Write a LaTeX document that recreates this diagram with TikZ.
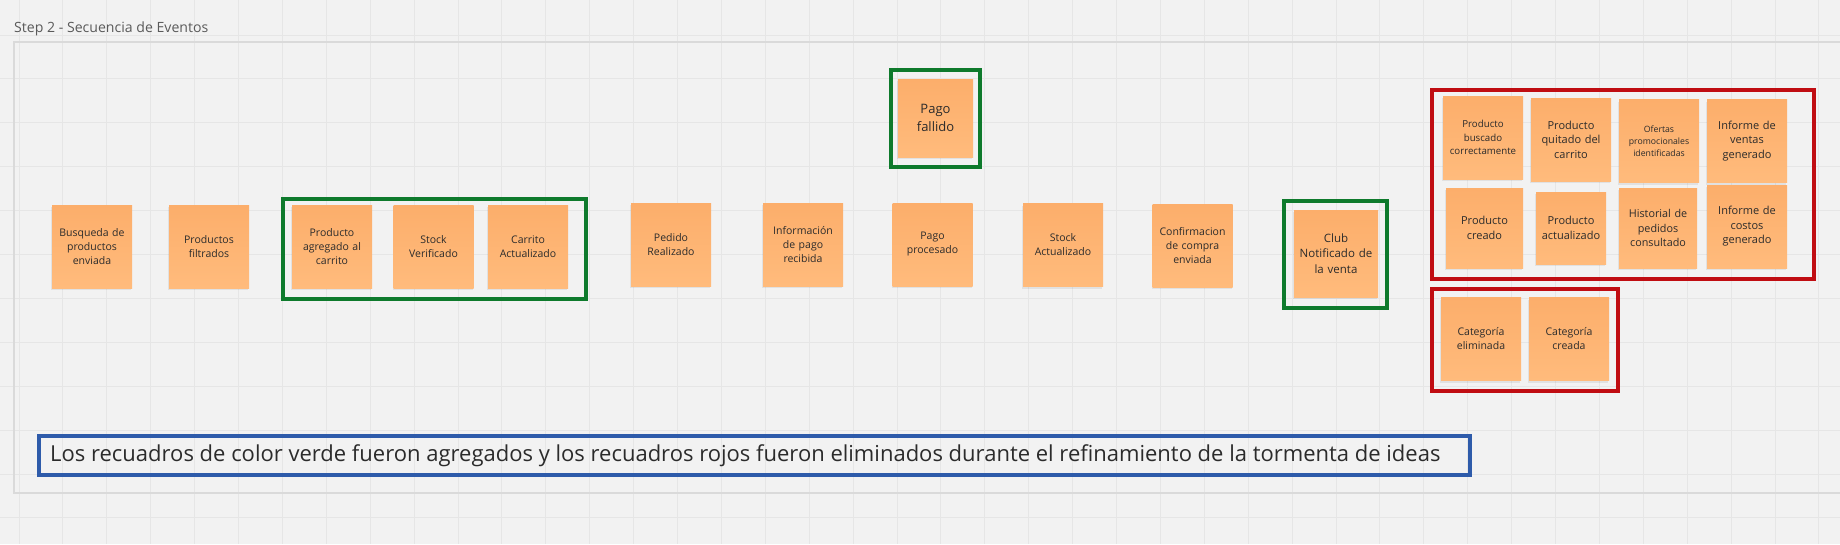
\documentclass[tikz,border=0pt]{standalone}
\usepackage{fontspec}
\setmainfont{Open Sans}
\usetikzlibrary{shadows}
\definecolor{colbg}{HTML}{F2F2F2}
\definecolor{colgrid}{HTML}{E6E6E6}
\definecolor{colframe}{HTML}{DADADA}
\definecolor{coltop}{HTML}{FCAE6B}
\definecolor{colbot}{HTML}{FFBB7C}
\definecolor{coltxt}{HTML}{2B2B2B}
\definecolor{colgreen}{HTML}{0E7A2C}
\definecolor{colred}{HTML}{C00D12}
\definecolor{colblue}{HTML}{2E5BAA}
\definecolor{coltitle}{HTML}{5A5A5A}
\begin{document}
\begin{tikzpicture}[x=1pt,y=-1pt,
  sticky/.style={rectangle, inner sep=0pt, top color=coltop, bottom color=colbot,
    draw=none, text=coltxt, align=center, minimum width=80pt, minimum height=83pt,
    text width=74pt, font=\fontsize{10.5}{14}\selectfont,
    drop shadow={shadow xshift=-1pt, shadow yshift=-2pt, opacity=0.15}},
  greenframe/.style={draw=colgreen, line width=4pt},
  redframe/.style={draw=colred, line width=4pt},
  blueframe/.style={draw=colblue, line width=4pt}]
\useasboundingbox (0,0) rectangle (1840,544);
\fill[colbg] (0,0) rectangle (1840,544);
% grid
\foreach \k in {0,...,41} {\draw[colgrid, line width=1pt] ({19+43.9*\k},0) -- ({19+43.9*\k},544);}
\foreach \k in {0,...,11} {\draw[colgrid, line width=1pt] (0,{35+43.9*\k}) -- (1840,{35+43.9*\k});}
% frame
\draw[colframe, line width=1.2pt] (1840,42) -- (14,42) -- (14,493) -- (1840,493);
\node[anchor=base west, inner sep=0pt, text=coltitle, font=\fontsize{14.1}{16}\selectfont] (title) at (14,32.5) {Step 2 - Secuencia de Eventos};

% main row
\node[sticky] (n1) at (92,246.5) {Busqueda de\\productos\\enviada};
\node[sticky] (n2) at (209,246.5) {Productos\\filtrados};
\node[sticky] (n3) at (332,246.5) {Producto\\agregado al\\carrito};
\node[sticky] (n4) at (433.5,246.5) {Stock\\Verificado};
\node[sticky] (n5) at (528,246.5) {Carrito\\Actualizado};
\node[sticky] (n6) at (671,244.5) {Pedido\\Realizado};
\node[sticky] (n7) at (803,244.5) {Información\\de pago\\recibida};
\node[sticky] (n8) at (932.5,244.5) {Pago\\procesado};
\node[sticky] (n9) at (1063,245) {Stock\\Actualizado};
\node[sticky] (n10) at (1192.5,245.5) {Confirmacion\\de compra\\enviada};
\node[sticky, minimum width=84pt, minimum height=87pt, font=\fontsize{11.5}{15.5}\selectfont] (n11) at (1336,253.5) {Club\\Notificado de\\la venta};
\node[sticky, minimum width=75pt, minimum height=78pt, font=\fontsize{13}{17.5}\selectfont] (pf) at (935.5,118) {Pago\\fallido};

% green frames
\draw[greenframe] (283,199) rectangle (586,299);
\draw[greenframe] (890.5,70) rectangle (980,167);
\draw[greenframe] (1284,201) rectangle (1387,308);

% removed notes
\node[sticky, font=\fontsize{9.7}{13.3}\selectfont] (r1) at (1483,137.5) {Producto\\buscado\\correctamente};
\node[sticky, font=\fontsize{11}{14.5}\selectfont] (r2) at (1571,139.5) {Producto\\quitado del\\carrito};
\node[sticky, font=\fontsize{8.7}{12}\selectfont] (r3) at (1659,141) {Ofertas\\promocionales\\identificadas};
\node[sticky, font=\fontsize{11}{14.5}\selectfont] (r4) at (1747,141) {Informe de\\ventas\\generado};
\node[sticky, minimum width=77pt, minimum height=80pt, font=\fontsize{11}{14.5}\selectfont] (r5) at (1484.5,228) {Producto\\creado};
\node[sticky, minimum width=70pt, minimum height=72pt, text width=70pt, font=\fontsize{11}{14.5}\selectfont] (r6) at (1571,228) {Producto\\actualizado};
\node[sticky, minimum width=78pt, minimum height=80pt, font=\fontsize{10.8}{14.5}\selectfont] (r7) at (1658,228) {Historial de\\pedidos\\consultado};
\node[sticky, font=\fontsize{11}{14.5}\selectfont] (r8) at (1747,226.5) {Informe de\\costos\\generado};
\node[sticky] (c1) at (1481,339) {Categoría\\eliminada};
\node[sticky] (c2) at (1569,339) {Categoría\\creada};

% red frames
\draw[redframe] (1432,90) rectangle (1814,279);
\draw[redframe] (1432,289) rectangle (1618,391);

% legend
\draw[blueframe] (39,436) rectangle (1470,475);
\node[anchor=west, inner sep=0pt, text=coltxt, font=\fontsize{22}{26}\selectfont] (legend) at (50,456) {Los recuadros de color verde fueron agregados y los recuadros rojos fueron eliminados durante el refinamiento de la tormenta de ideas};
\end{tikzpicture}
\end{document}
